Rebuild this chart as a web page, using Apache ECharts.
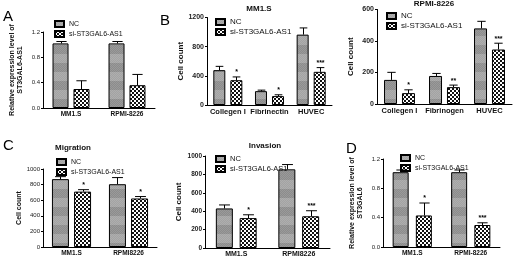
<!DOCTYPE html>
<html>
<head>
<meta charset="utf-8">
<script src="https://cdn.jsdelivr.net/npm/echarts@6/dist/echarts.min.js"></script>
<style>
  html, body { margin: 0; padding: 0; background: #fff; }
  #main { width: 520px; height: 261px; }
</style>
</head>
<body>
<div id="main"></div>
<script>
// A: ST3GAL6-AS1 expression
const catA = ["MM1.S", "RPMI-8226"];
const ncA = [1.02, 1.02];
const ncAErr = [0.03, 0.03];
const siA = [0.30, 0.36];
const siAErr = [0.13, 0.17];
const starA = ["", ""];

// B left: MM1.S adhesion
const catB1 = ["Collegen I", "Fibrinectin", "HUVEC"];
const ncB1 = [478, 190, 965];
const ncB1Err = [52, 14, 92];
const siB1 = [340, 122, 455];
const siB1Err = [45, 18, 58];
const starB1 = ["*", "*", "***"];

// B right: RPMI-8226 adhesion
const catB2 = ["Collegen I", "Fibrinogen", "HUVEC"];
const ncB2 = [153, 178, 480];
const ncB2Err = [48, 16, 45];
const siB2 = [69, 107, 346];
const siB2Err = [21, 13, 40];
const starB2 = ["*", "**", "***"];

// C left: migration
const catC1 = ["MM1.S", "RPMI8226"];
const ncC1 = [870, 805];
const ncC1Err = [32, 85];
const siC1 = [710, 622];
const siC1Err = [25, 25];
const starC1 = ["*", "*"];

// C right: invasion
const catC2 = ["MM1.S", "RPMI8226"];
const ncC2 = [430, 855];
const ncC2Err = [38, 52];
const siC2 = [325, 345];
const siC2Err = [36, 60];
const starC2 = ["*", "***"];

// D: ST3GAL6 expression
const catD = ["MM1.S", "RPMI-8226"];
const ncD = [1.02, 1.02];
const ncDErr = [0.03, 0.03];
const siD = [0.43, 0.30];
const siDErr = [0.17, 0.03];
const starD = ["*", "***"];

function ncPattern() {
  const c = document.createElement("canvas");
  c.width = 4; c.height = 18;
  const ctx = c.getContext("2d");
  ctx.fillStyle = "#a3a3a3"; ctx.fillRect(0, 0, 4, 9);
  ctx.fillStyle = "#8c8c8c"; ctx.fillRect(0, 9, 4, 9);
  ctx.fillStyle = "rgba(255,255,255,0.12)";
  for (let y = 0; y < 18; y++) for (let x = 0; x < 4; x++) if ((x + y) % 2 === 0) ctx.fillRect(x, y, 1, 1);
  return c;
}
function siPattern() {
  const c = document.createElement("canvas");
  c.width = 4; c.height = 4;
  const ctx = c.getContext("2d");
  ctx.fillStyle = "#fff"; ctx.fillRect(0, 0, 4, 4);
  ctx.fillStyle = "#111";
  ctx.fillRect(0, 0, 2, 2); ctx.fillRect(2, 2, 2, 2);
  return c;
}
const ncFill = { image: ncPattern(), repeat: "repeat" };
const siFill = { image: siPattern(), repeat: "repeat" };

const panels = [
  { grid: [43, 32, 112, 76], max: 1.2, step: 0.4, dec: 1, cats: catA, nc: ncA, ncErr: ncAErr, si: siA, siErr: siAErr, stars: starA,
    bw: 16, gap: 0.31, yName: "Relative expression level of\nST3GAL6-AS1", nameGap: 19, legend: [49, 15], fs: 6, lfs: 7, bold: false },
  { grid: [207, 17.5, 125, 87.5], max: 1200, step: 400, dec: 0, cats: catB1, nc: ncB1, ncErr: ncB1Err, si: siB1, siErr: siB1Err, stars: starB1,
    bw: 12, gap: 0.42, yName: "Cell count", nameGap: 22, legend: [210, 13], fs: 7, lfs: 8, bold: true },
  { grid: [377, 9.5, 135, 94.5], max: 600, step: 200, dec: 0, cats: catB2, nc: ncB2, ncErr: ncB2Err, si: siB2, siErr: siB2Err, stars: starB2,
    bw: 13, gap: 0.38, yName: "Cell count", nameGap: 22, legend: [381, 7], fs: 7, lfs: 8, bold: true },
  { grid: [43, 169, 114, 78], max: 1000, step: 200, dec: 0, cats: catC1, nc: ncC1, ncErr: ncC1Err, si: siC1, siErr: siC1Err, stars: starC1,
    bw: 17, gap: 0.3, yName: "Cell count", nameGap: 20, legend: [51, 153], fs: 6, lfs: 7, bold: false },
  { grid: [205, 156, 125, 92], max: 1000, step: 200, dec: 0, cats: catC2, nc: ncC2, ncErr: ncC2Err, si: siC2, siErr: siC2Err, stars: starC2,
    bw: 17, gap: 0.4, yName: "Cell count", nameGap: 22, legend: [210, 150], fs: 6.5, lfs: 7.5, bold: true },
  { grid: [383, 159, 117, 88], max: 1.2, step: 0.4, dec: 1, cats: catD, nc: ncD, ncErr: ncDErr, si: siD, siErr: siDErr, stars: starD,
    bw: 16, gap: 0.45, yName: "Relative expression level of\nST3GAL6", nameGap: 19, legend: [395, 149], fs: 6, lfs: 7, bold: false }
];

const FONT = "Liberation Sans, Arial, sans-serif";
const grids = [], xAxes = [], yAxes = [], series = [], legends = [];

function errSeries(gi, p, vals, errs, side, stars) {
  const off = side * p.bw * (1 + p.gap) / 2;
  return {
    type: "custom", xAxisIndex: gi, yAxisIndex: gi, silent: true, z: 5,
    data: vals.map((v, i) => [i, v, errs[i]]),
    renderItem: function (params, api) {
      const i = api.value(0);
      const base = api.coord([i, api.value(1)]);
      const top = api.coord([i, api.value(1) + api.value(2)]);
      const x = Math.round(base[0] + off) + 0.5;
      const cap = p.bw * 0.32;
      const kids = [
        { type: "line", shape: { x1: x, y1: base[1], x2: x, y2: top[1] }, style: { stroke: "#000", lineWidth: 1 } },
        { type: "line", shape: { x1: x - cap, y1: top[1], x2: x + cap, y2: top[1] }, style: { stroke: "#000", lineWidth: 1 } }
      ];
      const s = stars ? stars[params.dataIndex] : "";
      if (s) {
        kids.push({ type: "text", x: x, y: top[1] - 1,
          style: { text: s, align: "center", verticalAlign: "bottom", font: "bold 7px " + FONT, fill: "#000" } });
      }
      return { type: "group", children: kids };
    }
  };
}

panels.forEach(function (p, gi) {
  grids.push({ left: p.grid[0], top: p.grid[1], width: p.grid[2], height: p.grid[3], containLabel: false });
  xAxes.push({
    type: "category", gridIndex: gi, data: p.cats,
    axisLine: { lineStyle: { color: "#000", width: 1 } },
    axisTick: { alignWithLabel: true, length: 2, lineStyle: { color: "#000" } },
    axisLabel: { interval: 0, margin: 3, fontSize: p.fs + 0.5, fontWeight: "bold", color: "#111", fontFamily: FONT }
  });
  yAxes.push({
    type: "value", gridIndex: gi, min: 0, max: p.max, interval: p.step,
    name: p.yName, nameLocation: "middle", nameRotate: 90, nameGap: p.nameGap,
    nameTextStyle: { fontSize: p.bold ? 8 : 7, fontWeight: "bold", color: "#111", fontFamily: FONT, lineHeight: 8 },
    axisLine: { show: true, lineStyle: { color: "#000", width: 1 } },
    axisTick: { show: true, length: 2, lineStyle: { color: "#000" } },
    splitLine: { show: false },
    axisLabel: { margin: 3, fontSize: p.fs, fontWeight: p.bold ? "bold" : "normal", color: "#222", fontFamily: FONT,
      formatter: function (v) { return v.toFixed(p.dec); } }
  });
  series.push({
    type: "bar", name: "NC", xAxisIndex: gi, yAxisIndex: gi, data: p.nc, barWidth: p.bw, barGap: (p.gap * 100) + "%",
    itemStyle: { color: ncFill, borderColor: "#000", borderWidth: 1 }, silent: true
  });
  series.push({
    type: "bar", name: "si-ST3GAL6-AS1", xAxisIndex: gi, yAxisIndex: gi, data: p.si, barWidth: p.bw,
    itemStyle: { color: siFill, borderColor: "#000", borderWidth: 1 }, silent: true
  });
  series.push(errSeries(gi, p, p.nc, p.ncErr, -1, null));
  series.push(errSeries(gi, p, p.si, p.siErr, 1, p.stars));
  legends.push({
    left: p.legend[0], top: p.legend[1], orient: "vertical", icon: "rect", itemWidth: 9, itemHeight: 6, itemGap: 2,
    selectedMode: false, data: ["NC", "si-ST3GAL6-AS1"],
    textStyle: { fontSize: p.lfs, color: "#111", fontFamily: FONT }
  });
});

const texts = [
  ["A", 3, 9, "15px"], ["B", 160, 13, "15px"], ["C", 3, 138, "15px"], ["D", 346, 141, "15px"]
].map(function (t) {
  return { type: "text", x: t[1], y: t[2], style: { text: t[0], font: t[3] + " " + FONT, fill: "#000" } };
});
[["MM1.S", 259, 5], ["RPMI-8226", 434, 0], ["Migration", 73, 144], ["Invasion", 265, 142]].forEach(function (t) {
  texts.push({ type: "text", x: t[1], y: t[2], style: { text: t[0], align: "center", font: "bold 8px " + FONT, fill: "#111" } });
});

const chart = echarts.init(document.getElementById("main"), null, { renderer: "canvas" });
chart.setOption({
  animation: false,
  backgroundColor: "#fff",
  grid: grids,
  xAxis: xAxes,
  yAxis: yAxes,
  legend: legends,
  series: series,
  graphic: texts
});
</script>
</body>
</html>
